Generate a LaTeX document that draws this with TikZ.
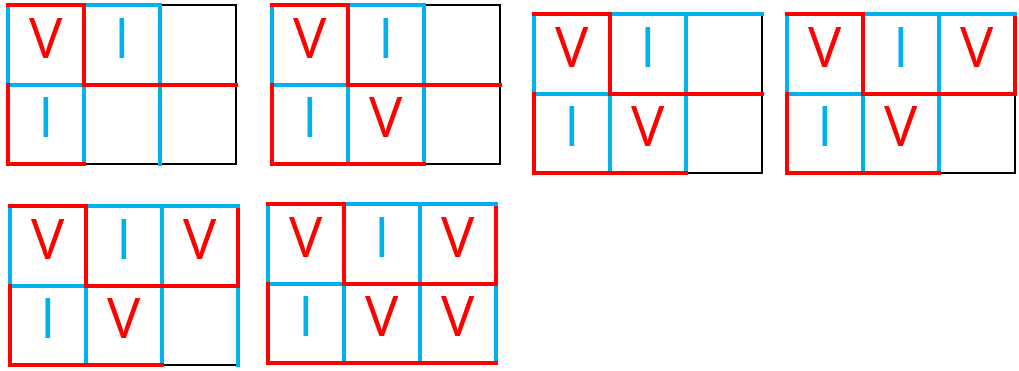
\documentclass[tikz,border=0pt]{standalone}
\usepackage{fontspec}
\setmainfont{Open Sans}
\usetikzlibrary{positioning}
\definecolor{cRed}{RGB}{255,0,0}
\definecolor{cCyan}{RGB}{0,176,240}
\tikzset{
  redline/.style={draw=cRed, line width=4pt, line cap=rect},
  cyanline/.style={draw=cCyan, line width=4pt, line cap=rect},
  blackline/.style={draw=black, line width=2.6pt, line cap=rect},
  letter/.style={anchor=base, inner sep=0pt,
                 font=\fontsize{56}{60}\selectfont},
  vletter/.style={letter, text=cRed},
  iletter/.style={letter, text=cCyan}
}
% one 2x3 panel: name, top-left corner, edges (x1/y1/x2/y2/style), letters
\newcommand{\gridpanel}[4]{%
  \begin{scope}[shift={(#2)}]
    \foreach \xa/\ya/\xb/\yb/\st in {#3}
      \draw[\st] (\xa*76,\ya*79.5) -- (\xb*76,\yb*79.5);
    \foreach \cc/\rr/\st/\lbl in {#4}
      \node[\st] (#1-\cc-\rr) at (\cc*76+38,\rr*79.5+53) {\lbl};
  \end{scope}}

\begin{document}
\begin{tikzpicture}[x=1pt, y=-1pt]
  \useasboundingbox (0,0) rectangle (1019,370);

  % Panel 1
  \gridpanel{p1}{8,5}{2/0/3/0/blackline, 1/2/3/2/blackline, 3/0/3/2/blackline,
    1/0/2/0/cyanline, 0/1/1/1/cyanline, 0/0/0/1/cyanline, 2/0/2/2/cyanline, 1/1/1/2/cyanline,
    0/0/1/0/redline, 1/1/3/1/redline, 0/2/1/2/redline, 1/0/1/1/redline, 0/1/0/2/redline}
    {0/0/vletter/V, 1/0/iletter/I, 0/1/iletter/I}

  % Panel 2
  \gridpanel{p2}{272,5}{2/0/3/0/blackline, 2/2/3/2/blackline, 3/0/3/2/blackline,
    1/0/2/0/cyanline, 0/1/1/1/cyanline, 0/0/0/1/cyanline, 2/0/2/2/cyanline, 1/1/1/2/cyanline,
    0/0/1/0/redline, 1/1/3/1/redline, 0/2/2/2/redline, 1/0/1/1/redline, 0/1/0/2/redline}
    {0/0/vletter/V, 1/0/iletter/I, 0/1/iletter/I, 1/1/vletter/V}

  % Panel 3
  \gridpanel{p3}{534,14}{2/2/3/2/blackline, 3/0/3/2/blackline,
    1/0/3/0/cyanline, 0/1/1/1/cyanline, 0/0/0/1/cyanline, 2/0/2/2/cyanline, 1/1/1/2/cyanline,
    0/0/1/0/redline, 1/1/3/1/redline, 0/2/2/2/redline, 1/0/1/1/redline, 0/1/0/2/redline}
    {0/0/vletter/V, 1/0/iletter/I, 0/1/iletter/I, 1/1/vletter/V}

  % Panel 4
  \gridpanel{p4}{787,14}{2/2/3/2/blackline, 3/1/3/2/blackline,
    3/0/3/1/redline,
    1/0/3/0/cyanline, 0/1/1/1/cyanline, 0/0/0/1/cyanline, 2/0/2/2/cyanline, 1/1/1/2/cyanline,
    0/0/1/0/redline, 1/1/3/1/redline, 0/2/2/2/redline, 1/0/1/1/redline, 0/1/0/2/redline}
    {0/0/vletter/V, 1/0/iletter/I, 2/0/vletter/V, 0/1/iletter/I, 1/1/vletter/V}

  % Panel 5
  \gridpanel{p5}{10,206}{2/2/3/2/blackline,
    3/0/3/1/redline,
    1/0/3/0/cyanline, 0/1/1/1/cyanline, 0/0/0/1/cyanline, 2/0/2/2/cyanline, 1/1/1/2/cyanline,
    3/1/3/2/cyanline,
    0/0/1/0/redline, 1/1/3/1/redline, 0/2/2/2/redline, 1/0/1/1/redline, 0/1/0/2/redline}
    {0/0/vletter/V, 1/0/iletter/I, 2/0/vletter/V, 0/1/iletter/I, 1/1/vletter/V}

  % Panel 6
  \gridpanel{p6}{268,204}{3/0/3/1/redline,
    1/0/3/0/cyanline, 0/1/1/1/cyanline, 0/0/0/1/cyanline, 2/0/2/2/cyanline, 1/1/1/2/cyanline,
    3/1/3/2/cyanline,
    0/0/1/0/redline, 1/1/3/1/redline, 0/2/3/2/redline, 1/0/1/1/redline, 0/1/0/2/redline}
    {0/0/vletter/V, 1/0/iletter/I, 2/0/vletter/V, 0/1/iletter/I, 1/1/vletter/V, 2/1/vletter/V}
\end{tikzpicture}
\end{document}
